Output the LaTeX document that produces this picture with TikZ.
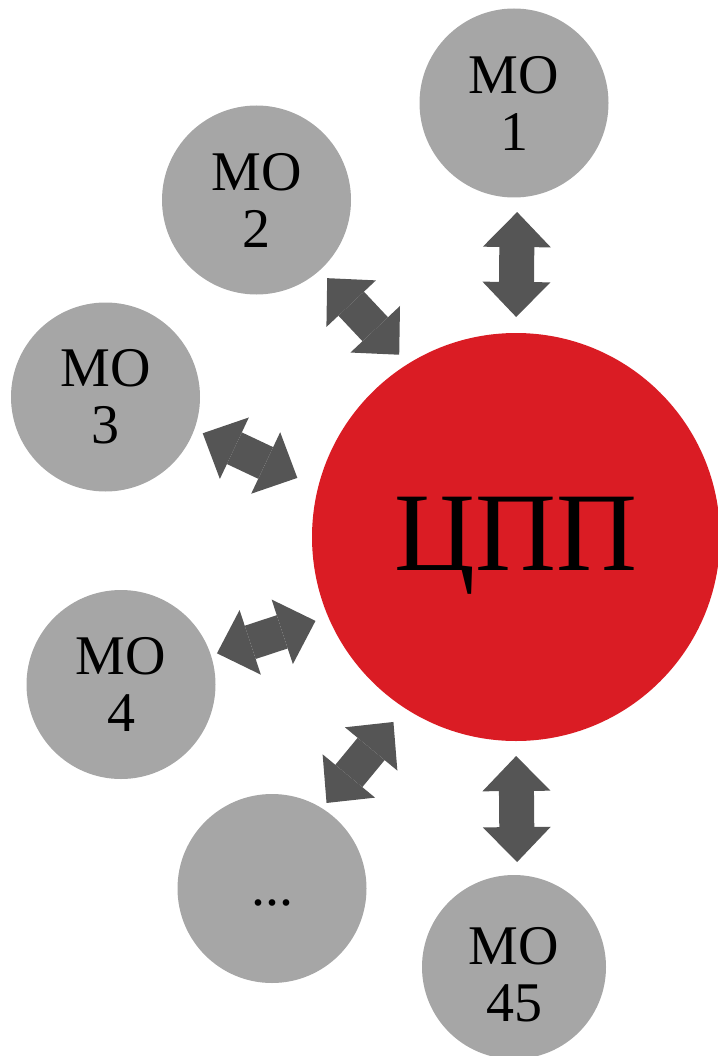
\documentclass[tikz,border=0pt]{standalone}
\usepackage{fontspec}
\setmainfont{Liberation Serif}
\usetikzlibrary{arrows.meta}
\definecolor{mogray}{HTML}{A6A6A6}
\definecolor{cppred}{HTML}{DA1C24}
\definecolor{linkgray}{HTML}{555555}
\begin{document}
\begin{tikzpicture}[x=1pt,y=-1pt,>={Triangle[length=35pt,width=68pt,line width=0pt]},
    mo/.style={circle,fill=mogray,minimum size=189pt,inner sep=0pt,outer sep=0pt,align=center,font=\fontsize{56}{57}\selectfont},
    link/.style={<->,draw=linkgray,line width=35pt}]
    \useasboundingbox (0,0) rectangle (717,1056);
    \node[circle,fill=cppred,minimum size=408pt,inner sep=0pt,outer sep=0pt,text depth=7pt,font=\fontsize{112}{112}\selectfont] (cpp) at (516,537) {ЦПП};
    \node[mo] (mo1) at (514,103) {МО\\1};
    \node[mo] (mo2) at (256.5,200) {МО\\2};
    \node[mo] (mo3) at (105.5,397) {МО\\3};
    \node[mo] (mo4) at (121,684.5) {МО\\4};
    \node[mo,text height=33pt,text depth=0pt] (dots) at (272,888.5) {...};
    \node[mo,minimum size=184pt] (mo45) at (514,967) {\rule{0pt}{52pt}МО\\45};
    % two-headed links, anchor angle and gap at each end
    \foreach \a/\b/\s/\e in {mo1.-88/cpp.90/14.6/16, mo2.-48/cpp.122/10.9/12.7,
        mo3.-20/cpp.166/9.3/22.9, mo4.18/cpp.203/6.4/13.4,
        dots.58/cpp.237/7/18, cpp.-90/mo45.88/15/13}
      \draw[link,shorten <=\s pt,shorten >=\e pt] (\a) -- (\b);
\end{tikzpicture}
\end{document}
